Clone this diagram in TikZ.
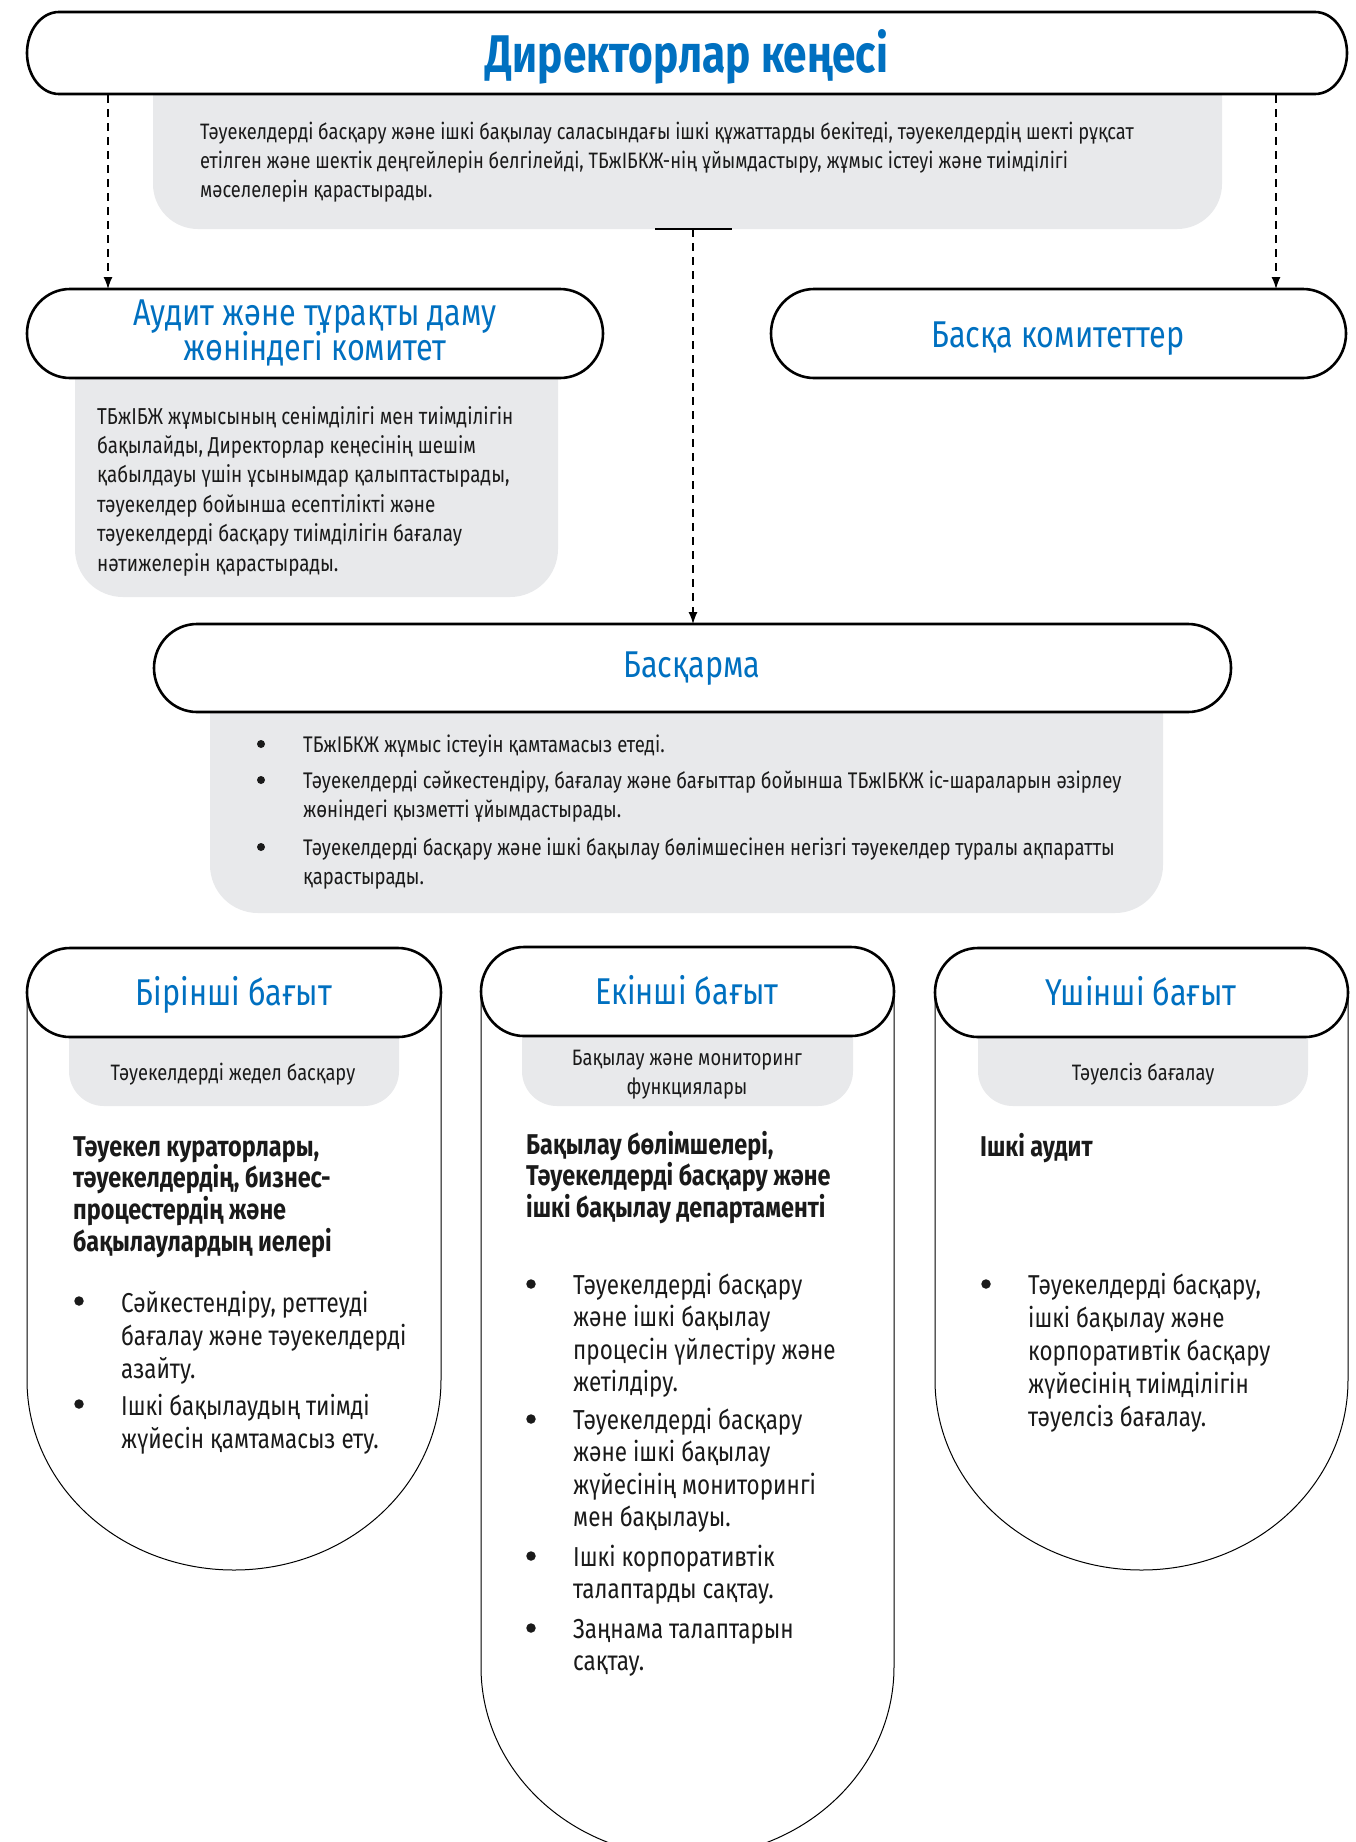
\documentclass[tikz,border=0pt]{standalone}
\usepackage{fontspec}
\setmainfont{Fira Sans}[FakeStretch=0.82]
\newfontfamily\titlefont{Fira Sans}[FakeStretch=0.80]
\usetikzlibrary{arrows.meta}
\definecolor{tblue}{RGB}{0,112,192}
\definecolor{tgray}{RGB}{232,233,235}
\definecolor{ttext}{RGB}{26,26,26}

% x1 y1 x2 y2 rx ry
\newcommand\pillbox[6]{%
  \draw[hdr] (#1+#5,#2) -- (#3-#5,#2)
    arc[start angle=90,end angle=-90,x radius=#5pt,y radius=#6pt]
    -- (#1+#5,#4)
    arc[start angle=270,end angle=90,x radius=#5pt,y radius=#6pt] -- cycle;}
% x1 x2 ytop ystart rx ry
\newcommand\bagshape[6]{%
  \draw[bag] (#1,#3) -- (#1,#4)
    arc[start angle=180,end angle=360,x radius=#5pt,y radius=#6pt] -- (#2,#3);}
\newcommand\fsz[2]{\fontsize{#1}{#2}\selectfont\lineskiplimit=-100pt\relax}

\begin{document}
\begin{tikzpicture}[x=1pt,y=-1pt,
  hdr/.style={draw=black, line width=2.6pt, fill=white},
  bag/.style={draw=black, line width=1pt, fill=white},
  ttl/.style={text=tblue, inner sep=0pt, anchor=base, align=center},
  body/.style={text=ttext, inner sep=0pt, anchor=base west, align=left},
  bodyc/.style={text=ttext, inner sep=0pt, anchor=base, align=center},
  bul/.style={circle, fill=ttext, inner sep=0pt, minimum size=9.5pt},
  bulS/.style={circle, fill=ttext, inner sep=0pt, minimum size=8pt},
  conn/.style={draw=black, line width=1.3pt, dash pattern=on 8pt off 6pt, -{Latex[length=12pt,width=9pt]}},
  bar/.style={draw=black, line width=2.6pt},
  fTitle/.style={font={\titlefont\bfseries\fsz{53}{60}}},
  fHead/.style={font={\fsz{37.3}{35}}},
  fTop/.style={font={\fsz{22.3}{29.4}}},
  fAud/.style={font={\fsz{23}{29.4}}},
  fMid/.style={font={\fsz{22.6}{29.5}}},
  fSub/.style={font={\fsz{22.3}{29}}},
  fBold/.style={font={\bfseries\fsz{28.6}{31.7}}},
  fList/.style={font={\fsz{27.3}{33}}},
  fList2/.style={font={\fsz{27.4}{32.5}}},
]
\useasboundingbox[fill=white] (0,0) rectangle (1355,1842);

% ---------- Board of directors ----------
\fill[tgray, rounded corners=45pt] (153,40) rectangle (1222,229);
\pillbox{27}{12}{1347}{94}{32}{41}
\node[ttl, fTitle] (bod) at (687,72) {Директорлар кеңесі};
% multi-line nodes: anchor point = baseline of last line
\node[body, fTop] (bodtext) at (200,197.8) {Тәуекелдерді басқару және ішкі бақылау саласындағы ішкі құжаттарды бекітеді, тәуекелдердің шекті рұқсат\\етілген және шектік деңгейлерін белгілейді, ТБжІБКЖ-нің ұйымдастыру, жұмыс істеуі және тиімділігі\\мәселелерін қарастырады.};

% ---------- Audit committee ----------
\fill[tgray, rounded corners=48pt] (75,330) rectangle (558,597);
\pillbox{27}{289}{603}{378}{43}{44.5}
\node[ttl, fHead] (aud) at (315,360) {Аудит және тұрақты даму\\жөніндегі комитет};
\node[body, fAud] (audtext) at (97,571) {ТБжІБЖ жұмысының сенімділігі мен тиімділігін\\бақылайды, Директорлар кеңесінің шешім\\қабылдауы үшін ұсынымдар қалыптастырады,\\тәуекелдер бойынша есептілікті және\\тәуекелдерді басқару тиімділігін бағалау\\нәтижелерін қарастырады.};

% ---------- Other committees ----------
\pillbox{771}{289}{1346}{378}{43}{44.5}
\node[ttl, fHead] (oth) at (1058,347) {Басқа комитеттер};

% ---------- Management board ----------
\fill[tgray, rounded corners=48pt] (210,660) rectangle (1163,913);
\pillbox{154}{624}{1231}{712}{43}{44}
\node[ttl, fHead] (mgmt) at (692,677) {Басқарма};
\node[bulS] (md1) at (261,744) {};
\node[body, fMid] (mt1) at (303,752) {ТБжІБКЖ жұмыс істеуін қамтамасыз етеді.};
\node[bulS] (md2) at (261,780) {};
\node[body, fMid] (mt2) at (303,817.5) {Тәуекелдерді сәйкестендіру, бағалау және бағыттар бойынша ТБжІБКЖ іс-шараларын әзірлеу\\жөніндегі қызметті ұйымдастырады.};
\node[bulS] (md3) at (261,847) {};
\node[body, fMid] (mt3) at (303,884.5) {Тәуекелдерді басқару және ішкі бақылау бөлімшесінен негізгі тәуекелдер туралы ақпаратты\\қарастырады.};

% ---------- Connectors ----------
\coordinate (bodL) at (108,95);
\coordinate (audIn) at (108,289);
\coordinate (bodR) at (1276,95);
\coordinate (othIn) at (1276,289);
\coordinate (barL) at (655,229);
\coordinate (barR) at (732,229);
\coordinate (barM) at (693,229);
\coordinate (mgmtIn) at (693,624);
\draw[bar] (barL) -- (barR);
\draw[conn] (bodL) -- (audIn);
\draw[conn] (bodR) -- (othIn);
\draw[conn] (barM) -- (mgmtIn);

% ---------- First line ----------
\bagshape{27}{441}{992}{1380}{207}{190}
\fill[tgray, rounded corners=35pt] (69,990) rectangle (399,1106);
\pillbox{27}{948}{441}{1037}{43}{44.5}
\node[ttl, fHead] (l1) at (234,1005) {Бірінші бағыт};
\node[bodyc, fSub] (l1sub) at (233,1080) {Тәуекелдерді жедел басқару};
\node[body, fBold] (l1b) at (73,1251.1) {Тәуекел кураторлары,\\тәуекелдердің, бизнес-\\процестердің және\\бақылаулардың иелері};
\node[bul] (l1d1) at (79,1301) {};
\node[body, fList] (l1t1) at (121,1378) {Сәйкестендіру, реттеуді\\бағалау және тәуекелдерді\\азайту.};
\node[bul] (l1d2) at (79,1404) {};
\node[body, fList] (l1t2) at (121,1448) {Ішкі бақылаудың тиімді\\жүйесін қамтамасыз ету.};

% ---------- Second line ----------
\bagshape{481}{894}{992}{1667}{206.5}{190}
\fill[tgray, rounded corners=35pt] (522,990) rectangle (853,1106);
\pillbox{481}{947}{894}{1036}{43}{44.5}
\node[ttl, fHead] (l2) at (687,1004) {Екінші бағыт};
\node[bodyc, fSub] (l2sub) at (687,1094) {Бақылау және мониторинг\\функциялары};
\node[body, fBold] (l2b) at (526,1217.4) {Бақылау бөлімшелері,\\Тәуекелдерді басқару және\\ішкі бақылау департаменті};
\node[bul] (l2d1) at (531,1284) {};
\node[body, fList2] (l2t1) at (573,1391.5) {Тәуекелдерді басқару\\және ішкі бақылау\\процесін үйлестіру және\\жетілдіру.};
\node[bul] (l2d2) at (531,1419) {};
\node[body, fList2] (l2t2) at (573,1526.5) {Тәуекелдерді басқару\\және ішкі бақылау\\жүйесінің мониторингі\\мен бақылауы.};
\node[bul] (l2d3) at (531,1556) {};
\node[body, fList2] (l2t3) at (573,1598.5) {Ішкі корпоративтік\\талаптарды сақтау.};
\node[bul] (l2d4) at (531,1628) {};
\node[body, fList2] (l2t4) at (573,1670.5) {Заңнама талаптарын\\сақтау.};

% ---------- Third line ----------
\bagshape{935}{1348}{992}{1380}{206.5}{190}
\fill[tgray, rounded corners=35pt] (978,990) rectangle (1308,1106);
\pillbox{935}{948}{1348}{1037}{43}{44.5}
\node[ttl, fHead] (l3) at (1141,1005) {Үшінші бағыт};
\node[bodyc, fSub] (l3sub) at (1143,1080) {Тәуелсіз бағалау};
\node[body, fBold] (l3b) at (980,1156) {Ішкі аудит};
\node[bul] (l3d1) at (986,1284) {};
\node[body, fList] (l3t1) at (1028,1426) {Тәуекелдерді басқару,\\ішкі бақылау және\\корпоративтік басқару\\жүйесінің тиімділігін\\тәуелсіз бағалау.};
\end{tikzpicture}
\end{document}
